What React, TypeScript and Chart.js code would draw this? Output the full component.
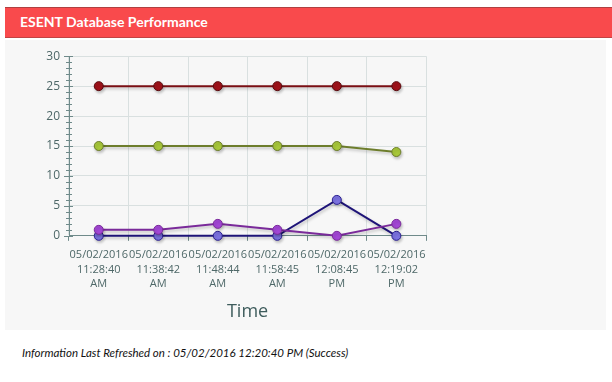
import React, { useEffect, useRef } from "react";
import { Chart, registerables } from "chart.js";

Chart.register(...registerables);

const categories: string[][] = [
  ["05/02/2016", "11:28:40", "AM"],
  ["05/02/2016", "11:38:42", "AM"],
  ["05/02/2016", "11:48:44", "AM"],
  ["05/02/2016", "11:58:45", "AM"],
  ["05/02/2016", "12:08:45", "PM"],
  ["05/02/2016", "12:19:02", "PM"],
];
const seriesRed = [25, 25, 25, 25, 25, 25];
const seriesGreen = [15, 15, 15, 15, 15, 14];
const seriesPurple = [1, 1, 2, 1, 0, 2];
const seriesBlue = [0, 0, 0, 0, 6, 0];
const yTicks = [0, 5, 10, 15, 20, 25, 30];

const shadowPlugin = {
  id: "lineShadow",
  beforeDatasetDraw(chart: any) {
    const ctx = chart.ctx;
    ctx.save();
    ctx.shadowColor = "rgba(0,0,0,0.22)";
    ctx.shadowBlur = 3;
    ctx.shadowOffsetX = 1;
    ctx.shadowOffsetY = 2;
  },
  afterDatasetDraw(chart: any) {
    chart.ctx.restore();
  },
};

const minorTicksPlugin = {
  id: "minorTicks",
  afterDraw(chart: any) {
    const y = chart.scales.y;
    const ctx = chart.ctx;
    const x0 = chart.chartArea.left;
    ctx.save();
    ctx.strokeStyle = "#6f8a8a";
    ctx.lineWidth = 1;
    for (let v = y.min; v <= y.max; v += 1) {
      const py = Math.round(y.getPixelForValue(v)) + 0.5;
      const major = v % 5 === 0;
      ctx.beginPath();
      ctx.moveTo(x0 - (major ? 5 : 3), py);
      ctx.lineTo(x0 + (major ? 4 : 3), py);
      ctx.stroke();
    }
    ctx.restore();
  },
};

export default function App() {
  const ref = useRef<HTMLCanvasElement>(null);
  useEffect(() => {
    document.body.style.margin = "0";
    const font = "'Open Sans', sans-serif";
    const mk = (data: number[], line: string, fill: string, border: string) => ({
      data,
      borderColor: line,
      backgroundColor: fill,
      pointBackgroundColor: fill,
      pointBorderColor: border,
      pointBorderWidth: 1,
      pointRadius: 4.5,
      borderWidth: 2,
      tension: 0,
      clip: false as any,
    });
    const chart = new Chart(ref.current!, {
      type: "line",
      data: {
        labels: categories,
        datasets: [
          mk(seriesRed, "#7a0f14", "#a0121a", "#5a0a0e"),
          mk(seriesGreen, "#6d7d2c", "#a8c83a", "#6d7d2c"),
          mk(seriesPurple, "#7a2a9a", "#a347d6", "#7a2a9a"),
          mk(seriesBlue, "#1e1478", "#7b72e0", "#2a1f90"),
        ],
      },
      options: {
        animation: false,
        responsive: false,
        maintainAspectRatio: false,
        layout: { padding: { top: 14, right: 4, left: 0, bottom: 7 } },
        plugins: { legend: { display: false }, tooltip: { enabled: false } },
        scales: {
          x: {
            offset: true,
            grid: { offset: true, color: "#d9e0e0", tickLength: 5, tickColor: "#6f8a8a" },
            border: { color: "#6f8a8a" },
            ticks: { color: "#4e6868", font: { family: font, size: 11, lineHeight: 1.32 }, padding: 7, maxRotation: 0, autoSkip: false },
            title: { display: true, text: "Time", color: "#3e5c5c", font: { family: font, size: 18 }, padding: { top: 3, bottom: 0 } },
          },
          y: {
            min: 0,
            max: 30,
            afterBuildTicks: (s: any) => { s.ticks = yTicks.map((v) => ({ value: v })); },
            afterFit: (s: any) => { s.width = 64; },
            grid: { color: "#d9e0e0", drawTicks: false },
            border: { color: "#6f8a8a" },
            ticks: { color: "#4e6868", font: { family: font, size: 12 }, padding: 9 },
          },
        },
      },
      plugins: [shadowPlugin, minorTicksPlugin],
    });
    return () => chart.destroy();
  }, []);

  return (
    <div style={{ position: "relative", width: 612, height: 382, background: "#fff", overflow: "hidden" }}>
      <div
        style={{
          position: "absolute", left: 5, top: 7, width: 607, height: 31,
          background: "#f94a4c", borderTop: "1px solid #b04040", borderBottom: "1px solid #c04444",
          boxSizing: "border-box",
        }}
      >
        <span
          style={{
            position: "absolute", left: 15, top: 5, color: "#fff",
            fontFamily: "Lato, sans-serif", fontWeight: 700, fontSize: 14,
          }}
        >
          ESENT Database Performance
        </span>
      </div>
      <div style={{ position: "absolute", left: 5, top: 40, width: 601, height: 290, background: "#f7f7f7" }}>
        <canvas ref={ref} width={428} height={290} style={{ position: "absolute", left: 0, top: 0 }} />
      </div>
      <div
        style={{
          position: "absolute", left: 22, top: 346, fontFamily: "Lato, sans-serif",
          fontStyle: "italic", fontSize: 11.5, color: "#111",
        }}
      >
        Information Last Refreshed on : 05/02/2016 12:20:40 PM (Success)
      </div>
    </div>
  );
}
